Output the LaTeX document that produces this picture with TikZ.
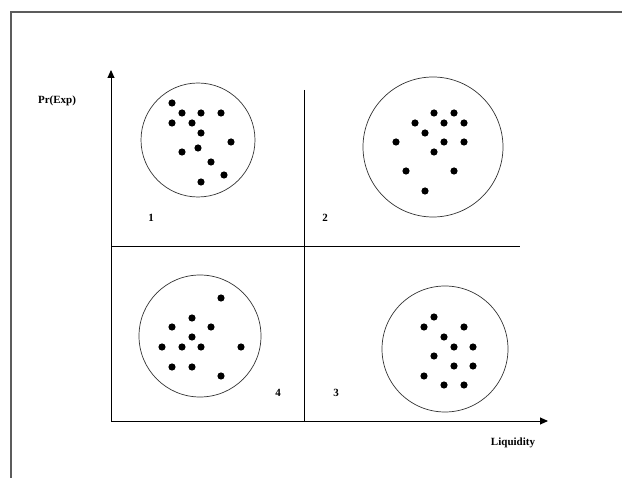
\documentclass[tikz,border=0pt]{standalone}
\usepackage{fontspec}
\setmainfont{Liberation Serif}
\usepackage{tikz}
\usetikzlibrary{arrows.meta}
\definecolor{cFrame}{HTML}{5C5C5C}
\definecolor{cRing} {HTML}{333333}

\begin{document}
\begin{tikzpicture}[x=1pt, y=-1pt,
    lbl/.style={font=\bfseries\fontsize{11}{13}\selectfont, inner sep=0pt},
    axis/.style={line width=0.9pt, -{Triangle[length=8pt, width=7pt]}},
    divider/.style={line width=0.9pt},
    ring/.style={draw=cRing, line width=0.7pt},
  ]
  \useasboundingbox (0,0) rectangle (622,478);
  \fill[white] (0,0) rectangle (622,478);
  % page frame
  \draw[cFrame, line width=2pt] (11,478) -- (11,12.5) -- (622,12.5);

  % axes and quadrant dividers
  \coordinate (origin)   at (111,421);
  \coordinate (ytip)     at (111,70);
  \coordinate (xtip)     at (548,421);
  \coordinate (midtop)   at (304,90);
  \coordinate (midbot)   at (304,421);
  \coordinate (leftmid)  at (111,246);
  \coordinate (rightmid) at (520,246);
  \draw[axis] (origin) -- (ytip);
  \draw[axis] (origin) -- (xtip);
  \draw[divider] (midtop) -- (midbot);
  \draw[divider] (leftmid) -- (rightmid);

  \node[lbl] (yname) at (57,101) {Pr(Exp)};
  \node[lbl] (xname) at (513,443) {Liquidity};

  % quadrant 1
  \begin{scope}[shift={(198,140)}]
    \draw[ring] (0,0) circle[radius=57];
    \foreach \dx/\dy in {-26/-37, -16/-27, 3/-27, 23/-27, -26/-17, -6/-17, 3/-7,
                         33/2, -16/12, 0/8, 13/22, 26/35, 3/42}
      \fill (\dx,\dy) circle[radius=3.6];
  \end{scope}
  % quadrant 2
  \begin{scope}[shift={(433,147)}]
    \draw[ring] (0,0) circle[radius=70];
    \foreach \dx/\dy in {1/-34, 21/-34, -18/-24, 11/-24, 31/-24, -8/-14, -37/-5,
                         11/-5, 31/-5, 1/5, -27/24, 21/24, -8/44}
      \fill (\dx,\dy) circle[radius=3.6];
  \end{scope}
  % quadrant 4
  \begin{scope}[shift={(200,336)}]
    \draw[ring] (0,0) circle[radius=61];
    \foreach \dx/\dy in {21/-38, -8/-18, -28/-9, 11/-9, -8/1, -38/11, -18/11,
                         1/11, 41/11, -28/31, -8/31, 21/40}
      \fill (\dx,\dy) circle[radius=3.6];
  \end{scope}
  % quadrant 3
  \begin{scope}[shift={(445,349)}]
    \draw[ring] (0,0) circle[radius=63];
    \foreach \dx/\dy in {-11/-32, -21/-22, 19/-22, -1/-12, 9/-2, 28/-2, -11/7,
                         9/17, 28/17, -21/27, -1/36, 19/36}
      \fill (\dx,\dy) circle[radius=3.6];
  \end{scope}

  \node[lbl] (q1) at (151,218) {1};
  \node[lbl] (q2) at (325,218) {2};
  \node[lbl] (q4) at (278,393) {4};
  \node[lbl] (q3) at (336,393) {3};
\end{tikzpicture}
\end{document}
